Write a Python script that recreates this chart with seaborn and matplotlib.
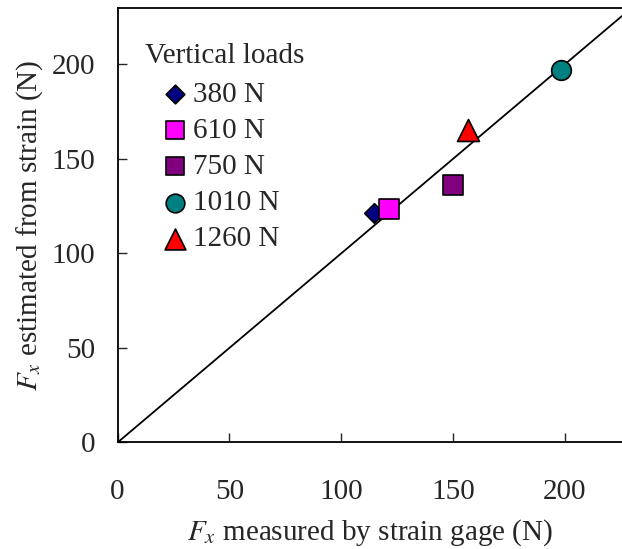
import pandas as pd
import seaborn as sns
import matplotlib.pyplot as plt

# values
loads = ["380 N", "610 N", "750 N", "1010 N", "1260 N"]
measured = [114.8, 121.5, 150.1, 198.2, 156.5]   # Fx measured by strain gage (N)
estimated = [121.2, 123.6, 136.0, 197.0, 165.2]  # Fx estimated from strain (N)
colors = ["#000080", "#FF00FF", "#800080", "#008080", "#FF0000"]
markers = ["D", "s", "s", "o", "^"]
sizes = [100, 200, 200, 200, 250]

df = pd.DataFrame({"load": loads, "measured": measured, "estimated": estimated})

sns.set_style("ticks")
plt.rcParams["font.family"] = ["Liberation Serif", "DejaVu Serif"]
plt.rcParams["mathtext.fontset"] = "stix"
FS = 21

fig = plt.figure(figsize=(6.22, 5.49), dpi=100)
ax = fig.add_axes([0.189, 0.194, 0.811, 0.791])

ax.axline((0, 0), slope=1, color="black", lw=1.3, zorder=1)

for load, c, m, s in zip(loads, colors, markers, sizes):
    sub = df[df["load"] == load]
    sns.scatterplot(data=sub, x="measured", y="estimated", ax=ax, color=c,
                    marker=m, s=s, edgecolor="black", linewidth=1.2,
                    label=load, zorder=3)

ax.set_xlim(0, 225.5)
ax.set_ylim(0, 229.6)
ax.set_xticks([0, 50, 100, 150, 200])
ax.set_yticks([0, 50, 100, 150, 200])
ax.tick_params(axis="both", direction="in", length=6.5, width=1, labelsize=FS)
ax.tick_params(axis="x", pad=26)
ax.tick_params(axis="y", pad=16)
ax.spines["right"].set_visible(False)
for sp in ["left", "bottom", "top"]:
    ax.spines[sp].set_linewidth(1.3)
    ax.spines[sp].set_color("black")

ax.set_xlabel(r"$F_x$ measured by strain gage (N)", fontsize=FS, labelpad=9)
ax.set_ylabel(r"$F_x$ estimated from strain (N)", fontsize=FS, labelpad=5)

ax.text(0.054, 0.891, "Vertical loads", transform=ax.transAxes, fontsize=FS,
        ha="left", va="center")
ax.legend(loc="upper left", bbox_to_anchor=(0.085, 0.831), frameon=False,
          fontsize=FS, labelspacing=0.33, handlelength=1.0, handletextpad=0.1,
          borderpad=0, borderaxespad=0, markerscale=0.95)

fig.savefig("out.png", dpi=100)
